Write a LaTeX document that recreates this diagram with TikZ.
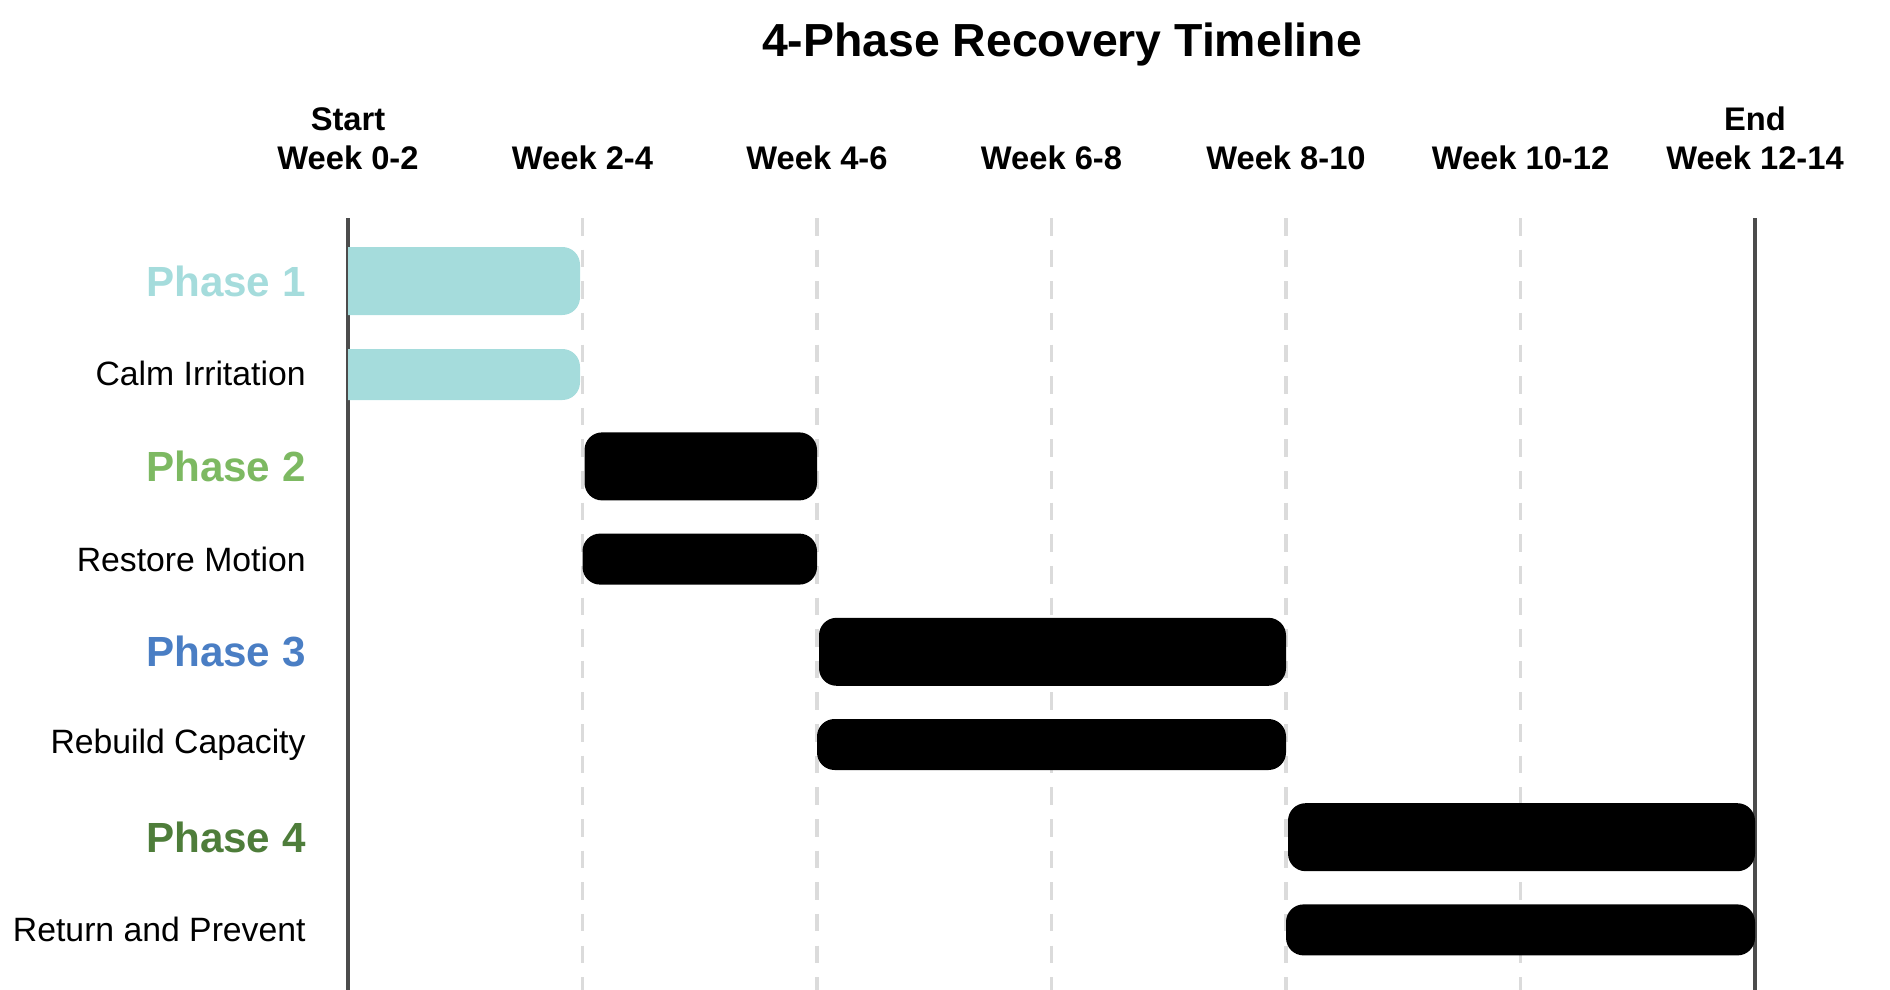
\documentclass[tikz,border=0pt]{standalone}
\usepackage{fontspec}
\setmainfont{Liberation Sans}
\usetikzlibrary{calc}
\definecolor{pone}{HTML}{A5DCDC}
\definecolor{ptwo}{HTML}{7DB962}
\definecolor{pthree}{HTML}{4A7EC4}
\definecolor{pfour}{HTML}{4E7D3A}
\begin{document}
\begin{tikzpicture}[
weeklab/.style={font=\bfseries\fontsize{9.3}{11.3}\selectfont, align=center, anchor=base},
phaselab/.style={font=\bfseries\fontsize{12}{14}\selectfont, anchor=east},
tasklab/.style={font=\fontsize{9.6}{12}\selectfont, anchor=east},
grid/.style={draw=black!14, line width=1.1pt, dash pattern=on 5pt off 4pt},
axis/.style={draw=black!70, line width=1.1pt},
bar/.style={rounded corners=5pt},
]
\useasboundingbox (0,0) rectangle (18.9,-9.9);
% title
\node[font=\bfseries\fontsize{13.2}{16}\selectfont] (title) at (10.62,-0.45) {4-Phase Recovery Timeline};
% week columns
\foreach \i/\t in {0/{Start\\Week 0-2},1/Week 2-4,2/Week 4-6,3/Week 6-8,4/Week 8-10,5/Week 10-12,6/{End\\Week 12-14}}{
  \coordinate (top\i) at ({3.48+2.345*\i},-2.18);
  \coordinate (bot\i) at ({3.48+2.345*\i},-9.9);
  \node[weeklab] (wk\i) at ({3.48+2.345*\i},-1.70) {\t};
}
\foreach \i in {1,...,5} \draw[grid] (top\i) -- (bot\i);
\draw[axis] (top0) -- (bot0);
\draw[axis] (top6) -- (bot6);
% rows
\foreach \r/\c/\t [count=\n] in {
  1/pone/Phase 1, 3/ptwo/Phase 2, 5/pthree/Phase 3, 7/pfour/Phase 4}{
  \node[phaselab, text=\c] (ph\n) at (3.18,{-2.81-0.927*(\r-1)}) {\t};
}
\foreach \r/\t [count=\n] in {
  2/Calm Irritation, 4/Restore Motion, 6/Rebuild Capacity, 8/Return and Prevent}{
  \node[tasklab] (tk\n) at (3.18,{-2.81-0.927*(\r-1)}) {\t};
}
% bars
\fill[pone, bar] (3.48,-2.47) -- (5.80,-2.47) -- (5.80,-3.15) [sharp corners] -- (3.48,-3.15) -- cycle;
\fill[pone, bar] (3.48,-3.49) -- (5.80,-3.49) -- (5.80,-4.00) [sharp corners] -- (3.48,-4.00) -- cycle;
\foreach \a/\b/\r in {1/2/3, 2/4/5, 4/6/7}{
  \fill[black, bar] ({3.50+2.345*\a},{-2.81-0.927*(\r-1)+0.34}) rectangle ({3.48+2.345*\b},{-2.81-0.927*(\r-1)-0.34});
  \fill[black, bar] ({3.48+2.345*\a},{-2.81-0.927*\r+0.255}) rectangle ({3.48+2.345*\b},{-2.81-0.927*\r-0.255});
}
\end{tikzpicture}
\end{document}
